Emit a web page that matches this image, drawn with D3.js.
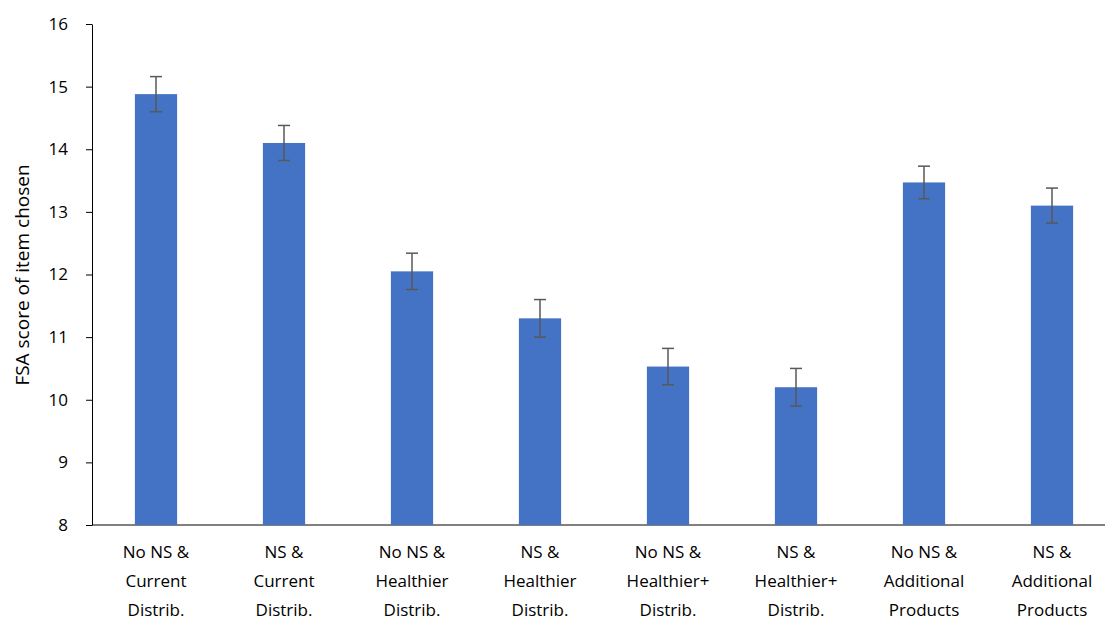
<!DOCTYPE html>
<html><head><meta charset="utf-8">
<script src="https://cdn.jsdelivr.net/npm/d3@7"></script>
<style>body{margin:0;background:#fff}text{font-family:"Open Sans",sans-serif;fill:#000}</style>
</head><body><svg width="1108" height="626"></svg>
<script>
var categories = [["No NS &","Current","Distrib."],["NS &","Current","Distrib."],["No NS &","Healthier","Distrib."],["NS &","Healthier","Distrib."],["No NS &","Healthier+","Distrib."],["NS &","Healthier+","Distrib."],["No NS &","Additional","Products"],["NS &","Additional","Products"]];
var means = [14.88, 14.1, 12.05, 11.3, 10.53, 10.2, 13.47, 13.1];
var errs = [0.28, 0.28, 0.29, 0.3, 0.29, 0.3, 0.26, 0.28];
var yTicks = [8, 9, 10, 11, 12, 13, 14, 15, 16];

var svg = d3.select("svg");
var x = d3.scaleBand().domain(d3.range(8)).range([92, 1116]).paddingInner(0.67).paddingOuter(0.335);
var y = d3.scaleLinear().domain([8, 16]).range([525, 24]);

var ya = svg.append("g").attr("transform", "translate(92,0)")
  .call(d3.axisLeft(y).tickValues(yTicks).tickSize(0).tickPadding(24));
ya.select(".domain").attr("stroke", "#000");
ya.selectAll("text").style("font-size", "17px");
ya.selectAll(".tick").append("line").attr("x1", 0).attr("x2", -6).attr("stroke", "#000");

svg.append("line").attr("x1", 92).attr("x2", 1105).attr("y1", y(8)).attr("y2", y(8)).attr("stroke", "#000");

svg.selectAll(".bar").data(means).enter().append("rect")
  .attr("x", function(d, i) { return x(i); }).attr("width", x.bandwidth())
  .attr("y", function(d) { return y(d); }).attr("height", function(d) { return y(8) - y(d); })
  .attr("fill", "#4472C4");

var eb = svg.selectAll(".eb").data(means).enter().append("g").attr("stroke", "#595959").attr("stroke-width", 1.5);
eb.append("line").attr("x1", function(d, i) { return x(i) + x.bandwidth() / 2; }).attr("x2", function(d, i) { return x(i) + x.bandwidth() / 2; })
  .attr("y1", function(d, i) { return y(d + errs[i]); }).attr("y2", function(d, i) { return y(d - errs[i]); });
[1, -1].forEach(function(s) {
  eb.append("line").attr("x1", function(d, i) { return x(i) + x.bandwidth() / 2 - 6; }).attr("x2", function(d, i) { return x(i) + x.bandwidth() / 2 + 6; })
    .attr("y1", function(d, i) { return y(d + s * errs[i]); }).attr("y2", function(d, i) { return y(d + s * errs[i]); });
});

var lab = svg.selectAll(".lab").data(categories).enter().append("text")
  .attr("text-anchor", "middle").style("font-size", "17px")
  .attr("transform", function(d, i) { return "translate(" + (x(i) + x.bandwidth() / 2) + ",558)"; });
lab.selectAll("tspan").data(function(d) { return d; }).enter().append("tspan")
  .attr("x", 0).attr("dy", function(d, j) { return j ? 29 : 0; }).text(function(d) { return d; });

svg.append("text").attr("transform", "translate(29,275) rotate(-90)").attr("text-anchor", "middle")
  .style("font-size", "19px").text("FSA score of item chosen");
</script></body></html>
